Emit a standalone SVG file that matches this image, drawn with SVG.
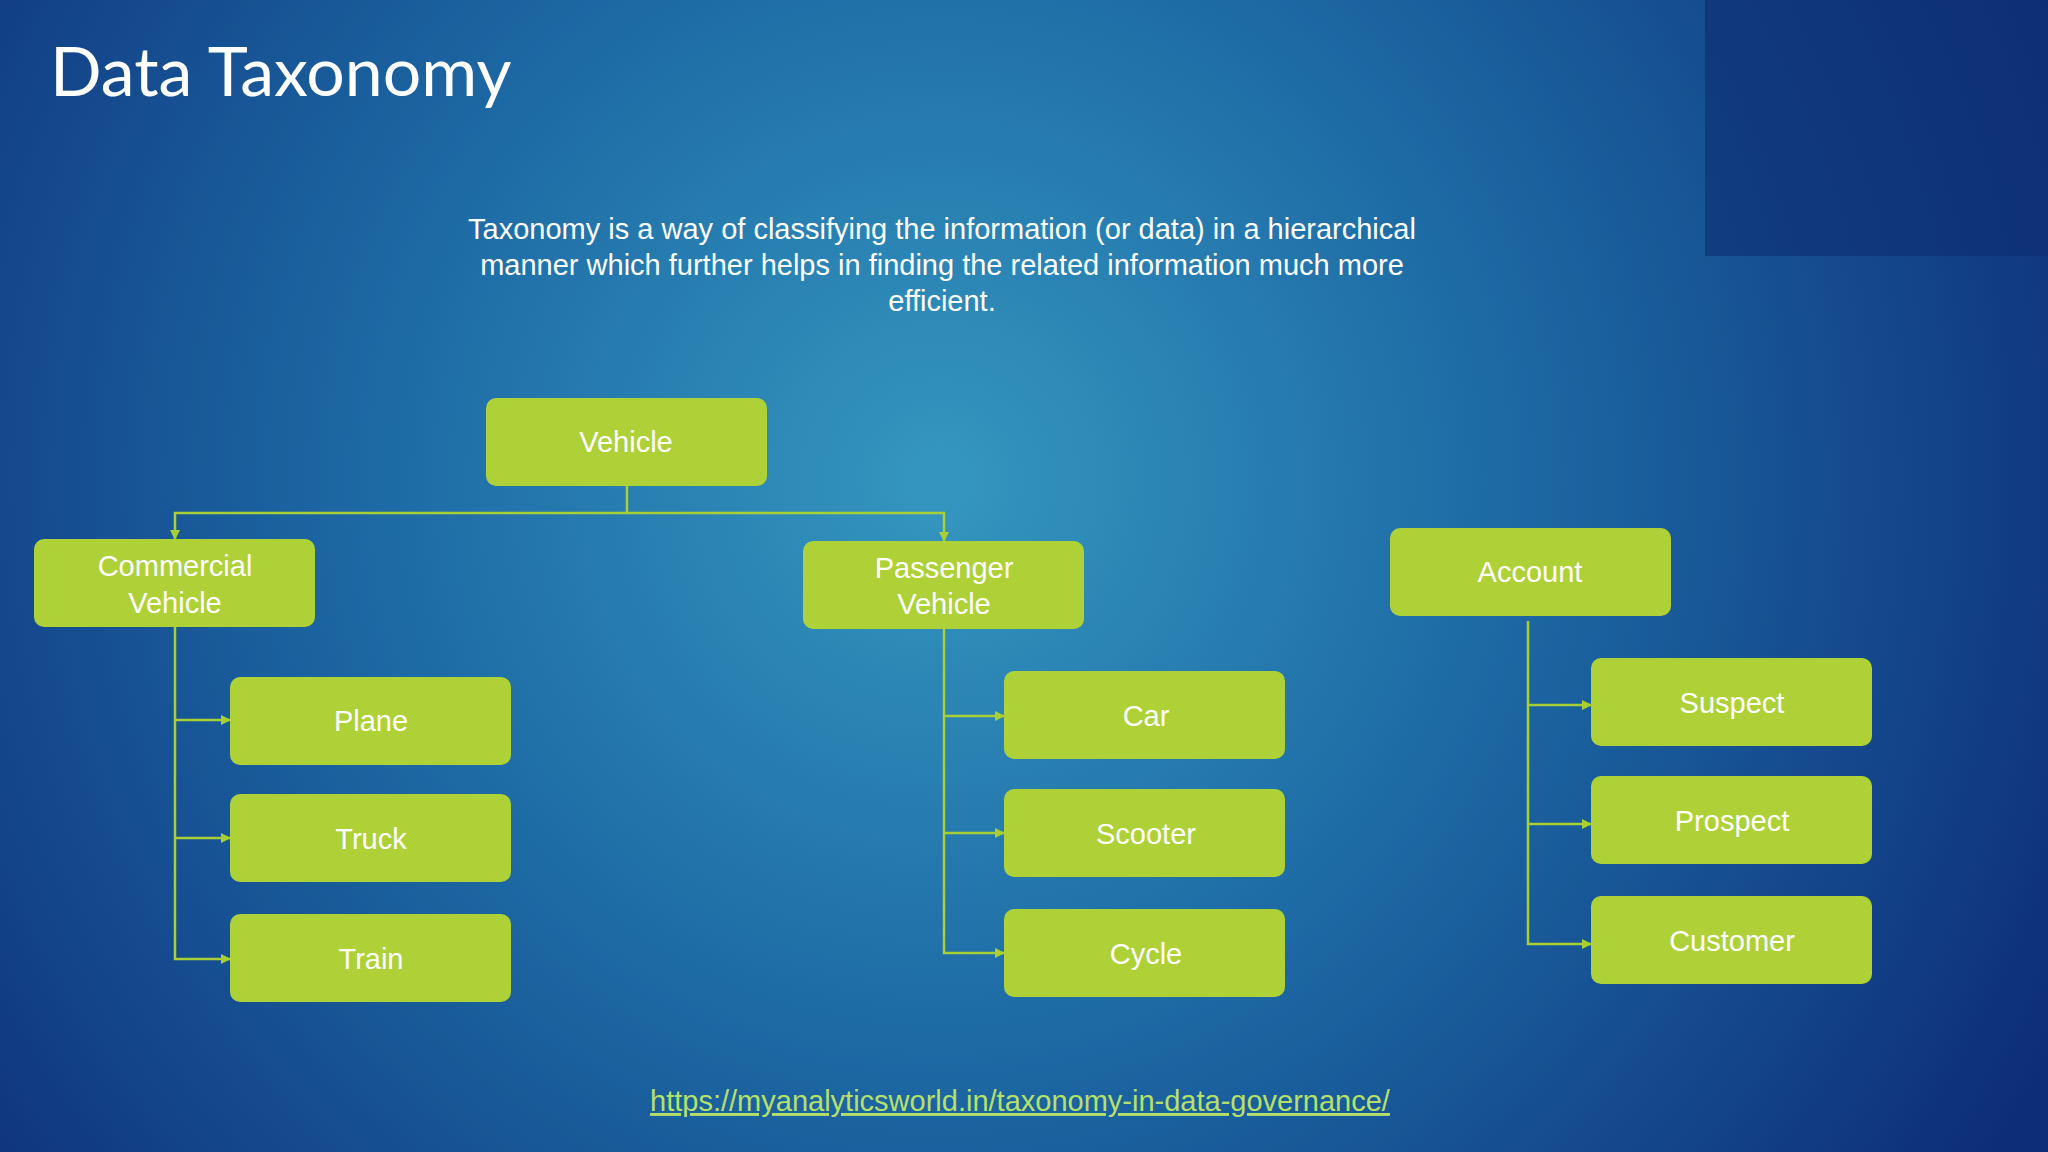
<svg xmlns="http://www.w3.org/2000/svg" width="2048" height="1152" viewBox="0 0 2048 1152">
<defs>
<radialGradient id="bg" cx="940" cy="480" r="1250" gradientUnits="userSpaceOnUse">
<stop offset="0" stop-color="#3597bf"/>
<stop offset="0.45" stop-color="#1d6aa5"/>
<stop offset="1" stop-color="#0d2d78"/>
</radialGradient>
<marker id="ar" viewBox="0 0 10 10" refX="9" refY="5" markerWidth="4" markerHeight="4" orient="auto"><path d="M0,0L10,5L0,10z" fill="#a9cf35"/></marker>
<style>
.n rect{fill:#add136;}
.n text{fill:#fff;font-family:"Liberation Sans",Arial,sans-serif;font-size:29px;text-anchor:middle;}
.c path{fill:none;stroke:#a9cf35;stroke-width:2.5;marker-end:url(#ar);}
</style>
</defs>
<rect width="2048" height="1152" fill="url(#bg)"/>
<rect x="1705" y="0" width="343" height="256" fill="#0e2d72" opacity="0.6"/>
<text x="50" y="96" font-family="Lato,'Liberation Sans',sans-serif" font-size="68" fill="#fff">Data Taxonomy</text>
<g font-family="'Liberation Sans',Arial,sans-serif" font-size="29" fill="#fff" text-anchor="middle">
<text x="942" y="239">Taxonomy is a way of classifying the information (or data) in a hierarchical</text>
<text x="942" y="275">manner which further helps in finding the related information much more</text>
<text x="942" y="311">efficient.</text>
</g>
<g class="c">
<path d="M627,486V513H175V539"/>
<path d="M627,513H944V541"/>
<path d="M175,627V959H230"/>
<path d="M175,720H230"/>
<path d="M175,838H230"/>
<path d="M944,628V953H1004"/>
<path d="M944,716H1004"/>
<path d="M944,833H1004"/>
<path d="M1528,621V944H1591"/>
<path d="M1528,705H1591"/>
<path d="M1528,824H1591"/>
</g>
<g id="vehicle" class="n"><rect x="486" y="398" width="281" height="88" rx="10"/><text x="626" y="452">Vehicle</text></g>
<g id="commercial" class="n"><rect x="34" y="539" width="281" height="88" rx="10"/><text x="175" y="576">Commercial</text><text x="175" y="613">Vehicle</text></g>
<g id="passenger" class="n"><rect x="803" y="541" width="281" height="88" rx="10"/><text x="944" y="578">Passenger</text><text x="944" y="614">Vehicle</text></g>
<g id="account" class="n"><rect x="1390" y="528" width="281" height="88" rx="10"/><text x="1530" y="582">Account</text></g>
<g id="plane" class="n"><rect x="230" y="677" width="281" height="88" rx="10"/><text x="371" y="731">Plane</text></g>
<g id="truck" class="n"><rect x="230" y="794" width="281" height="88" rx="10"/><text x="371" y="849">Truck</text></g>
<g id="train" class="n"><rect x="230" y="914" width="281" height="88" rx="10"/><text x="371" y="969">Train</text></g>
<g id="car" class="n"><rect x="1004" y="671" width="281" height="88" rx="10"/><text x="1146" y="726">Car</text></g>
<g id="scooter" class="n"><rect x="1004" y="789" width="281" height="88" rx="10"/><text x="1146" y="844">Scooter</text></g>
<g id="cycle" class="n"><rect x="1004" y="909" width="281" height="88" rx="10"/><text x="1146" y="964">Cycle</text></g>
<g id="suspect" class="n"><rect x="1591" y="658" width="281" height="88" rx="10"/><text x="1732" y="713">Suspect</text></g>
<g id="prospect" class="n"><rect x="1591" y="776" width="281" height="88" rx="10"/><text x="1732" y="831">Prospect</text></g>
<g id="customer" class="n"><rect x="1591" y="896" width="281" height="88" rx="10"/><text x="1732" y="951">Customer</text></g>
<text x="1020" y="1111" font-family="'Liberation Sans',Arial,sans-serif" font-size="29" fill="#b5e06a" text-anchor="middle" text-decoration="underline">https://myanalyticsworld.in/taxonomy-in-data-governance/</text>
</svg>
